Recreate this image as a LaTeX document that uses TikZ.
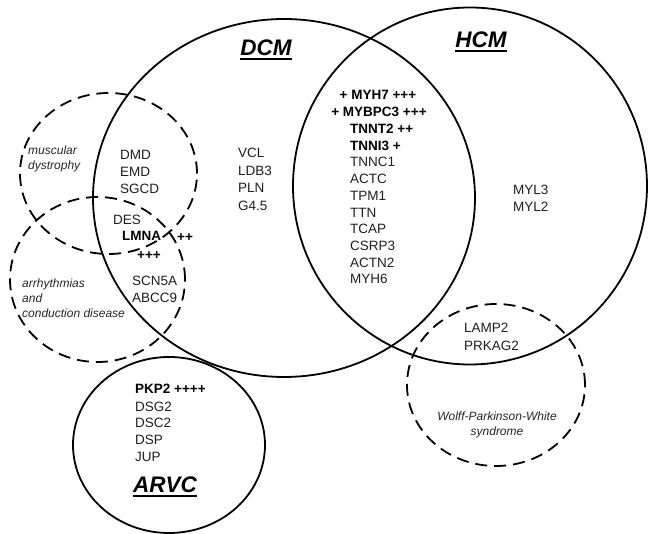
\documentclass[tikz,border=0pt]{standalone}
\usepackage{fontspec}
\setmainfont{Liberation Sans}
\usetikzlibrary{shapes.geometric}
\tikzset{
  circ/.style={ellipse, draw, line width=1.8pt, inner sep=0pt},
  dcirc/.style={circ, dash pattern=on 12pt off 7pt},
  gene/.style={anchor=base west, inner sep=0pt, font=\fontsize{13.5}{16}\selectfont, text=black!88},
  bgene/.style={gene, font=\fontsize{13.5}{16}\selectfont\bfseries, text=black},
  cgene/.style={bgene, anchor=base},
  dis/.style={anchor=base west, inner sep=0pt, font=\fontsize{12}{14}\selectfont\itshape, text=black!85},
  cdis/.style={dis, anchor=base},
  title/.style={anchor=base, inner sep=0pt, font=\fontsize{22.5}{26}\selectfont\bfseries\itshape},
  uline/.style={line width=2pt},
}
\begin{document}
\begin{tikzpicture}[x=1pt,y=-1pt]
\fill[white] (0,0) rectangle (649,534);
\useasboundingbox (0,0) rectangle (649,534);

% circles
\node[circ, minimum width=382pt, minimum height=358pt] (dcmC) at (284,198) {};
\node[circ, minimum width=354pt, minimum height=357pt] (hcmC) at (470,186) {};
\node[circ, minimum width=192pt, minimum height=176pt] (arvcC) at (169,445) {};
\node[dcirc, minimum width=177pt, minimum height=161pt] (mdC) at (108.5,173.5) {};
\node[dcirc, minimum width=175pt, minimum height=165pt] (arC) at (97.5,279.5) {};
\node[dcirc, minimum width=178pt, minimum height=162pt] (wpwC) at (496,385) {};

% titles
\node[title] (dcm) at (266,56) {DCM};
\draw[uline] ([yshift=-3.5pt]dcm.base west) -- ([yshift=-3.5pt]dcm.base east);
\node[title] (hcm) at (481,48) {HCM};
\draw[uline] ([yshift=-3.5pt]hcm.base west) -- ([yshift=-3.5pt]hcm.base east);
\node[title] (arvc) at (165,493) {ARVC};
\draw[uline] ([yshift=-3.5pt]arvc.base west) -- ([yshift=-3.5pt]arvc.base east);

% disease labels
\node[dis] (md1) at (28,155) {muscular};
\node[dis] (md2) at (28,170) {dystrophy};
\node[dis] (ar1) at (22,288) {arrhythmias};
\node[dis] (ar2) at (22,303) {and};
\node[dis] (ar3) at (22,317.5) {conduction disease};
\node[cdis] (wpw1) at (497,421) {Wolff-Parkinson-White};
\node[cdis] (wpw2) at (497,436) {syndrome};

% muscular dystrophy genes
\node[gene] (g1) at (120,160) {DMD};
\node[gene] (g2) at (120,176.7) {EMD};
\node[gene] (g3) at (120,193.4) {SGCD};
\node[gene] (g4) at (113,225) {DES};
\node[bgene] (g5) at (122,241) {LMNA};
\node[bgene] (g5a) at (177,241.5) {++};
\node[bgene] (g5b) at (137,259.5) {+++};
\node[gene] (g6) at (132,286) {SCN5A};
\node[gene] (g7) at (132,303) {ABCC9};

% DCM genes
\node[gene] (d1) at (238,158) {VCL};
\node[gene] (d2) at (238,175.5) {LDB3};
\node[gene] (d3) at (238,193) {PLN};
\node[gene] (d4) at (238,210.5) {G4.5};

% overlap genes
\node[cgene] (o1) at (378,100) {+ MYH7 +++};
\node[cgene] (o2) at (379,116.8) {+ MYBPC3 +++};
\node[bgene] (o3) at (350,133.5) {TNNT2 ++};
\node[bgene] (o4) at (350,150.2) {TNNI3 +};
\node[gene] (o5) at (350,166.9) {TNNC1};
\node[gene] (o6) at (350,183.6) {ACTC};
\node[gene] (o7) at (350,200.4) {TPM1};
\node[gene] (o8) at (350,217.1) {TTN};
\node[gene] (o9) at (350,233.8) {TCAP};
\node[gene] (o10) at (350,250.5) {CSRP3};
\node[gene] (o11) at (350,267.2) {ACTN2};
\node[gene] (o12) at (350,284) {MYH6};

% HCM genes
\node[gene] (h1) at (513,195) {MYL3};
\node[gene] (h2) at (513,212) {MYL2};

% WPW genes
\node[gene] (w1) at (464,333) {LAMP2};
\node[gene] (w2) at (464,351) {PRKAG2};

% ARVC genes
\node[bgene] (a1) at (135,394) {PKP2 ++++};
\node[gene] (a2) at (135,411.5) {DSG2};
\node[gene] (a3) at (135,428) {DSC2};
\node[gene] (a4) at (135,445) {DSP};
\node[gene] (a5) at (135,461.5) {JUP};
\end{tikzpicture}
\end{document}
